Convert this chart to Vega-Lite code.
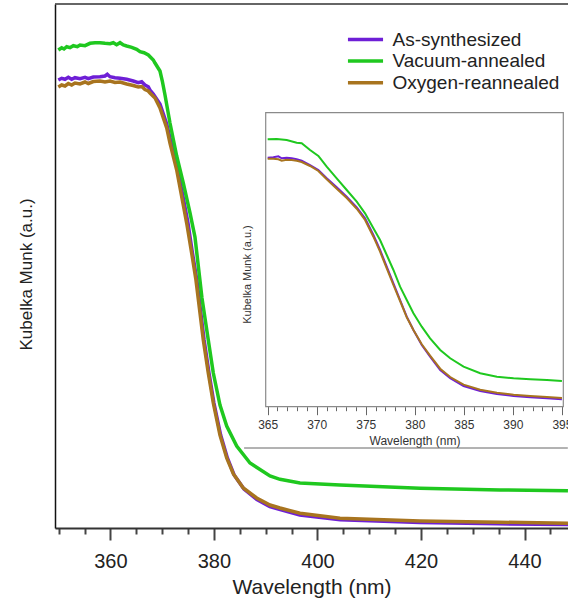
{
  "$schema": "https://vega.github.io/schema/vega-lite/v6.json",
  "width": 513,
  "height": 524,
  "autosize": {"type": "none"},
  "padding": {"left": 55, "top": 4, "right": 0, "bottom": 73},
  "config": {"view": {"stroke": null}, "font": "Liberation Sans", "axis": {"grid": false}},
  "datasets": {
    "main": [
      {"sample":"As-synthesized","wavelength":349.94,"km":448},{"sample":"As-synthesized","wavelength":350.59,"km":449.7},{"sample":"As-synthesized","wavelength":351.23,"km":448.7},{"sample":"As-synthesized","wavelength":351.87,"km":450.7},{"sample":"As-synthesized","wavelength":352.52,"km":448.7},{"sample":"As-synthesized","wavelength":353.16,"km":450.3},{"sample":"As-synthesized","wavelength":354.13,"km":449.3},{"sample":"As-synthesized","wavelength":355.1,"km":450.7},{"sample":"As-synthesized","wavelength":355.73,"km":449.3},{"sample":"As-synthesized","wavelength":356.7,"km":451},{"sample":"As-synthesized","wavelength":357.99,"km":451.3},{"sample":"As-synthesized","wavelength":358.96,"km":452},{"sample":"As-synthesized","wavelength":359.4,"km":453.7},{"sample":"As-synthesized","wavelength":359.92,"km":451.3},{"sample":"As-synthesized","wavelength":360.89,"km":450.3},{"sample":"As-synthesized","wavelength":361.86,"km":449.7},{"sample":"As-synthesized","wavelength":363.15,"km":448.7},{"sample":"As-synthesized","wavelength":364.42,"km":447},{"sample":"As-synthesized","wavelength":365.39,"km":445.3},{"sample":"As-synthesized","wavelength":366.05,"km":446.3},{"sample":"As-synthesized","wavelength":366.68,"km":443},{"sample":"As-synthesized","wavelength":367.32,"km":441.3},{"sample":"As-synthesized","wavelength":367.65,"km":438},{"sample":"As-synthesized","wavelength":368.29,"km":434},{"sample":"As-synthesized","wavelength":369.58,"km":424},{"sample":"As-synthesized","wavelength":370.88,"km":404},{"sample":"As-synthesized","wavelength":371.51,"km":390},{"sample":"As-synthesized","wavelength":372.81,"km":364},{"sample":"As-synthesized","wavelength":374.08,"km":330},{"sample":"As-synthesized","wavelength":374.99,"km":305},{"sample":"As-synthesized","wavelength":375.76,"km":278},{"sample":"As-synthesized","wavelength":376.7,"km":248},{"sample":"As-synthesized","wavelength":378.1,"km":188},{"sample":"As-synthesized","wavelength":379.05,"km":155},{"sample":"As-synthesized","wavelength":380.0,"km":125},{"sample":"As-synthesized","wavelength":381.3,"km":93},{"sample":"As-synthesized","wavelength":382.6,"km":70},{"sample":"As-synthesized","wavelength":383.9,"km":53},{"sample":"As-synthesized","wavelength":385.8,"km":39},{"sample":"As-synthesized","wavelength":388.3,"km":28.5},{"sample":"As-synthesized","wavelength":390.8,"km":21.5},{"sample":"As-synthesized","wavelength":392.8,"km":18.5},{"sample":"As-synthesized","wavelength":396.6,"km":13},{"sample":"As-synthesized","wavelength":404.4,"km":8.2},{"sample":"As-synthesized","wavelength":419.8,"km":5.5},{"sample":"As-synthesized","wavelength":435,"km":4.2},{"sample":"As-synthesized","wavelength":448.4,"km":3.5},
      {"sample":"Oxygen-reannealed","wavelength":349.94,"km":441},{"sample":"Oxygen-reannealed","wavelength":350.59,"km":443},{"sample":"Oxygen-reannealed","wavelength":351.23,"km":442},{"sample":"Oxygen-reannealed","wavelength":351.87,"km":444.5},{"sample":"Oxygen-reannealed","wavelength":352.52,"km":443},{"sample":"Oxygen-reannealed","wavelength":353.16,"km":445},{"sample":"Oxygen-reannealed","wavelength":354.13,"km":444},{"sample":"Oxygen-reannealed","wavelength":355.1,"km":446},{"sample":"Oxygen-reannealed","wavelength":355.73,"km":444.5},{"sample":"Oxygen-reannealed","wavelength":356.7,"km":446.5},{"sample":"Oxygen-reannealed","wavelength":357.99,"km":447},{"sample":"Oxygen-reannealed","wavelength":358.96,"km":446},{"sample":"Oxygen-reannealed","wavelength":359.92,"km":447},{"sample":"Oxygen-reannealed","wavelength":360.89,"km":445.5},{"sample":"Oxygen-reannealed","wavelength":361.86,"km":446},{"sample":"Oxygen-reannealed","wavelength":363.15,"km":444},{"sample":"Oxygen-reannealed","wavelength":364.42,"km":442.5},{"sample":"Oxygen-reannealed","wavelength":365.39,"km":441},{"sample":"Oxygen-reannealed","wavelength":366.05,"km":441.5},{"sample":"Oxygen-reannealed","wavelength":366.68,"km":438.5},{"sample":"Oxygen-reannealed","wavelength":367.32,"km":437},{"sample":"Oxygen-reannealed","wavelength":367.65,"km":435},{"sample":"Oxygen-reannealed","wavelength":368.62,"km":430},{"sample":"Oxygen-reannealed","wavelength":369.58,"km":420},{"sample":"Oxygen-reannealed","wavelength":370.88,"km":400},{"sample":"Oxygen-reannealed","wavelength":371.51,"km":385},{"sample":"Oxygen-reannealed","wavelength":372.81,"km":358},{"sample":"Oxygen-reannealed","wavelength":374.08,"km":323},{"sample":"Oxygen-reannealed","wavelength":374.8,"km":303},{"sample":"Oxygen-reannealed","wavelength":375.76,"km":273},{"sample":"Oxygen-reannealed","wavelength":376.53,"km":248},{"sample":"Oxygen-reannealed","wavelength":377.95,"km":188},{"sample":"Oxygen-reannealed","wavelength":378.91,"km":155},{"sample":"Oxygen-reannealed","wavelength":379.88,"km":125},{"sample":"Oxygen-reannealed","wavelength":381.17,"km":93},{"sample":"Oxygen-reannealed","wavelength":382.47,"km":70},{"sample":"Oxygen-reannealed","wavelength":383.76,"km":54},{"sample":"Oxygen-reannealed","wavelength":385.67,"km":40},{"sample":"Oxygen-reannealed","wavelength":388.26,"km":30},{"sample":"Oxygen-reannealed","wavelength":390.83,"km":23},{"sample":"Oxygen-reannealed","wavelength":392.76,"km":20},{"sample":"Oxygen-reannealed","wavelength":396.63,"km":14.7},{"sample":"Oxygen-reannealed","wavelength":404.35,"km":9.7},{"sample":"Oxygen-reannealed","wavelength":419.8,"km":7},{"sample":"Oxygen-reannealed","wavelength":435,"km":5.8},{"sample":"Oxygen-reannealed","wavelength":448.39,"km":4.7},
      {"sample":"Vacuum-annealed","wavelength":349.94,"km":478},{"sample":"Vacuum-annealed","wavelength":350.59,"km":480.3},{"sample":"Vacuum-annealed","wavelength":351.04,"km":479},{"sample":"Vacuum-annealed","wavelength":351.56,"km":481.3},{"sample":"Vacuum-annealed","wavelength":352.2,"km":480.3},{"sample":"Vacuum-annealed","wavelength":352.84,"km":482.3},{"sample":"Vacuum-annealed","wavelength":353.61,"km":481.3},{"sample":"Vacuum-annealed","wavelength":354.13,"km":483},{"sample":"Vacuum-annealed","wavelength":355.1,"km":482.3},{"sample":"Vacuum-annealed","wavelength":356.06,"km":484.7},{"sample":"Vacuum-annealed","wavelength":357.03,"km":485.3},{"sample":"Vacuum-annealed","wavelength":357.99,"km":485.3},{"sample":"Vacuum-annealed","wavelength":358.96,"km":484.7},{"sample":"Vacuum-annealed","wavelength":359.92,"km":484.3},{"sample":"Vacuum-annealed","wavelength":360.56,"km":485.3},{"sample":"Vacuum-annealed","wavelength":361.21,"km":483.3},{"sample":"Vacuum-annealed","wavelength":361.86,"km":485.3},{"sample":"Vacuum-annealed","wavelength":362.5,"km":483},{"sample":"Vacuum-annealed","wavelength":363.15,"km":482},{"sample":"Vacuum-annealed","wavelength":364.12,"km":480.7},{"sample":"Vacuum-annealed","wavelength":365.08,"km":478.7},{"sample":"Vacuum-annealed","wavelength":365.72,"km":476.3},{"sample":"Vacuum-annealed","wavelength":366.5,"km":475.3},{"sample":"Vacuum-annealed","wavelength":367.33,"km":473},{"sample":"Vacuum-annealed","wavelength":368.29,"km":468},{"sample":"Vacuum-annealed","wavelength":368.62,"km":465},{"sample":"Vacuum-annealed","wavelength":369.58,"km":457},{"sample":"Vacuum-annealed","wavelength":370.03,"km":447},{"sample":"Vacuum-annealed","wavelength":370.55,"km":433},{"sample":"Vacuum-annealed","wavelength":371.51,"km":405},{"sample":"Vacuum-annealed","wavelength":372.81,"km":372},{"sample":"Vacuum-annealed","wavelength":374.08,"km":345},{"sample":"Vacuum-annealed","wavelength":375.38,"km":315},{"sample":"Vacuum-annealed","wavelength":376.34,"km":291},{"sample":"Vacuum-annealed","wavelength":377.69,"km":230},{"sample":"Vacuum-annealed","wavelength":378.91,"km":188},{"sample":"Vacuum-annealed","wavelength":379.88,"km":155},{"sample":"Vacuum-annealed","wavelength":381.17,"km":123},{"sample":"Vacuum-annealed","wavelength":382.47,"km":102},{"sample":"Vacuum-annealed","wavelength":384.4,"km":82},{"sample":"Vacuum-annealed","wavelength":386.97,"km":65},{"sample":"Vacuum-annealed","wavelength":390.83,"km":52},{"sample":"Vacuum-annealed","wavelength":392.76,"km":48.7},{"sample":"Vacuum-annealed","wavelength":396.63,"km":45},{"sample":"Vacuum-annealed","wavelength":404.35,"km":43},{"sample":"Vacuum-annealed","wavelength":419.8,"km":39.7},{"sample":"Vacuum-annealed","wavelength":435.26,"km":38},{"sample":"Vacuum-annealed","wavelength":448.39,"km":37.3}
    ],
    "inset": [
      {"sample":"As-synthesized","wavelength":365.0,"km":249.0},{"sample":"As-synthesized","wavelength":365.58,"km":249.4},{"sample":"As-synthesized","wavelength":366.09,"km":250.4},{"sample":"As-synthesized","wavelength":366.43,"km":248.4},{"sample":"As-synthesized","wavelength":366.94,"km":249.0},{"sample":"As-synthesized","wavelength":367.45,"km":248.4},{"sample":"As-synthesized","wavelength":367.96,"km":247.4},{"sample":"As-synthesized","wavelength":368.47,"km":246.0},{"sample":"As-synthesized","wavelength":369.32,"km":241.7},{"sample":"As-synthesized","wavelength":370.17,"km":236.7},{"sample":"As-synthesized","wavelength":371.02,"km":228.4},{"sample":"As-synthesized","wavelength":372.04,"km":219.4},{"sample":"As-synthesized","wavelength":373.06,"km":210.0},{"sample":"As-synthesized","wavelength":374.08,"km":199.4},{"sample":"As-synthesized","wavelength":374.93,"km":188.4},{"sample":"As-synthesized","wavelength":375.78,"km":171.7},{"sample":"As-synthesized","wavelength":376.46,"km":156.7},{"sample":"As-synthesized","wavelength":377.14,"km":140.0},{"sample":"As-synthesized","wavelength":377.82,"km":123.4},{"sample":"As-synthesized","wavelength":378.5,"km":106.7},{"sample":"As-synthesized","wavelength":379.18,"km":90.0},{"sample":"As-synthesized","wavelength":379.86,"km":76.7},{"sample":"As-synthesized","wavelength":380.71,"km":61.7},{"sample":"As-synthesized","wavelength":381.56,"km":50.0},{"sample":"As-synthesized","wavelength":382.59,"km":36.7},{"sample":"As-synthesized","wavelength":383.61,"km":28.4},{"sample":"As-synthesized","wavelength":384.97,"km":20.7},{"sample":"As-synthesized","wavelength":386.67,"km":15.7},{"sample":"As-synthesized","wavelength":388.37,"km":12.7},{"sample":"As-synthesized","wavelength":390.07,"km":10.7},{"sample":"As-synthesized","wavelength":391.77,"km":9.4},{"sample":"As-synthesized","wavelength":393.47,"km":8.4},{"sample":"As-synthesized","wavelength":395.0,"km":7.4},
      {"sample":"Oxygen-reannealed","wavelength":365.0,"km":248.0},{"sample":"Oxygen-reannealed","wavelength":365.58,"km":248.0},{"sample":"Oxygen-reannealed","wavelength":366.09,"km":247.4},{"sample":"Oxygen-reannealed","wavelength":366.43,"km":246.0},{"sample":"Oxygen-reannealed","wavelength":366.94,"km":247.0},{"sample":"Oxygen-reannealed","wavelength":367.45,"km":246.7},{"sample":"Oxygen-reannealed","wavelength":367.96,"km":246.0},{"sample":"Oxygen-reannealed","wavelength":368.47,"km":244.7},{"sample":"Oxygen-reannealed","wavelength":369.32,"km":240.7},{"sample":"Oxygen-reannealed","wavelength":370.17,"km":235.7},{"sample":"Oxygen-reannealed","wavelength":371.02,"km":227.4},{"sample":"Oxygen-reannealed","wavelength":372.04,"km":218.0},{"sample":"Oxygen-reannealed","wavelength":373.06,"km":208.7},{"sample":"Oxygen-reannealed","wavelength":374.08,"km":198.0},{"sample":"Oxygen-reannealed","wavelength":374.93,"km":186.7},{"sample":"Oxygen-reannealed","wavelength":375.78,"km":170.0},{"sample":"Oxygen-reannealed","wavelength":376.46,"km":155.0},{"sample":"Oxygen-reannealed","wavelength":377.14,"km":138.4},{"sample":"Oxygen-reannealed","wavelength":377.82,"km":121.7},{"sample":"Oxygen-reannealed","wavelength":378.5,"km":105.7},{"sample":"Oxygen-reannealed","wavelength":379.18,"km":89.4},{"sample":"Oxygen-reannealed","wavelength":379.86,"km":76.7},{"sample":"Oxygen-reannealed","wavelength":380.71,"km":62.4},{"sample":"Oxygen-reannealed","wavelength":381.56,"km":51.0},{"sample":"Oxygen-reannealed","wavelength":382.59,"km":38.0},{"sample":"Oxygen-reannealed","wavelength":383.61,"km":29.7},{"sample":"Oxygen-reannealed","wavelength":384.97,"km":22.0},{"sample":"Oxygen-reannealed","wavelength":386.67,"km":17.0},{"sample":"Oxygen-reannealed","wavelength":388.37,"km":14.0},{"sample":"Oxygen-reannealed","wavelength":390.07,"km":12.0},{"sample":"Oxygen-reannealed","wavelength":391.77,"km":10.7},{"sample":"Oxygen-reannealed","wavelength":393.47,"km":9.7},{"sample":"Oxygen-reannealed","wavelength":395.0,"km":8.7},
      {"sample":"Vacuum-annealed","wavelength":365.0,"km":267.4},{"sample":"Vacuum-annealed","wavelength":365.92,"km":267.7},{"sample":"Vacuum-annealed","wavelength":366.94,"km":266.7},{"sample":"Vacuum-annealed","wavelength":367.96,"km":264.0},{"sample":"Vacuum-annealed","wavelength":368.47,"km":263.4},{"sample":"Vacuum-annealed","wavelength":369.32,"km":256.7},{"sample":"Vacuum-annealed","wavelength":370.17,"km":250.7},{"sample":"Vacuum-annealed","wavelength":371.02,"km":240.0},{"sample":"Vacuum-annealed","wavelength":372.04,"km":228.4},{"sample":"Vacuum-annealed","wavelength":373.06,"km":216.7},{"sample":"Vacuum-annealed","wavelength":374.08,"km":205.0},{"sample":"Vacuum-annealed","wavelength":374.93,"km":193.4},{"sample":"Vacuum-annealed","wavelength":375.78,"km":178.4},{"sample":"Vacuum-annealed","wavelength":376.46,"km":166.7},{"sample":"Vacuum-annealed","wavelength":377.14,"km":151.7},{"sample":"Vacuum-annealed","wavelength":377.82,"km":136.7},{"sample":"Vacuum-annealed","wavelength":378.5,"km":120.0},{"sample":"Vacuum-annealed","wavelength":379.18,"km":106.7},{"sample":"Vacuum-annealed","wavelength":379.86,"km":93.4},{"sample":"Vacuum-annealed","wavelength":380.71,"km":80.0},{"sample":"Vacuum-annealed","wavelength":381.56,"km":68.4},{"sample":"Vacuum-annealed","wavelength":382.59,"km":56.7},{"sample":"Vacuum-annealed","wavelength":383.61,"km":48.4},{"sample":"Vacuum-annealed","wavelength":384.97,"km":40.0},{"sample":"Vacuum-annealed","wavelength":386.67,"km":33.4},{"sample":"Vacuum-annealed","wavelength":388.37,"km":30.0},{"sample":"Vacuum-annealed","wavelength":390.07,"km":28.4},{"sample":"Vacuum-annealed","wavelength":391.77,"km":27.4},{"sample":"Vacuum-annealed","wavelength":393.47,"km":26.7},{"sample":"Vacuum-annealed","wavelength":395.0,"km":25.7}
    ]
  },
  "layer": [
    {
      "layer": [
        {
          "data": {"name": "main"},
          "mark": {"type": "line", "strokeWidth": 3.5, "clip": true},
          "encoding": {
            "x": {"field": "wavelength", "type": "quantitative",
              "scale": {"domain": [349.3, 448.4], "nice": false, "zero": false},
              "axis": {"title": "Wavelength (nm)", "values": [350,355,360,365,370,375,380,385,390,395,400,405,410,415,420,425,430,435,440,445],
                "labelExpr": "datum.value % 20 === 0 ? datum.label : ''", "labelOverlap": false, "labelFlush": false,
                "labelFontSize": 20, "labelColor": "#222222", "labelPadding": 11,
                "tickSize": {"condition": {"test": "datum.value % 20 === 0", "value": 12}, "value": 6},
                "tickWidth": 2, "tickColor": "#444444", "domainColor": "#333333", "domainWidth": 2,
                "titleFontSize": 21, "titleFontWeight": "normal", "titleColor": "#222222", "titlePadding": 5}},
            "y": {"field": "km", "type": "quantitative",
              "scale": {"domain": [0, 524], "nice": false, "zero": false},
              "axis": {"title": "Kubelka Munk (a.u.)", "labels": false, "ticks": false, "domainColor": "#111111", "domainWidth": 1.5,
                "titleFontSize": 17, "titleFontWeight": "normal", "titleColor": "#222222", "titlePadding": 20, "titleY": 270}},
            "color": {"field": "sample", "type": "nominal",
              "scale": {"domain": ["As-synthesized", "Vacuum-annealed", "Oxygen-reannealed"], "range": ["#6e1fd6", "#1fc81f", "#a8741f"]},
              "legend": {"orient": "none", "legendX": 299.5, "legendY": 24.5, "title": null, "padding": 0, "labelLimit": 0,
                "labelFontSize": 19, "labelColor": "#222222", "symbolType": "M-1.95,0H1.95", "symbolSize": 324,
                "symbolStrokeWidth": 3.5, "labelOffset": 16, "rowPadding": 0.6}}
          }
        },
        {
          "data": {"values": [{}]},
          "mark": {"type": "rule", "color": "#333333", "strokeWidth": 1.5},
          "encoding": {"y": {"datum": 524, "type": "quantitative", "scale": {"domain": [0, 524], "nice": false, "zero": false}}}
        }
      ]
    },
    {
      "layer": [
        {
          "data": {"name": "inset"},
          "mark": {"type": "line", "strokeWidth": 2},
          "encoding": {
            "x": {"field": "wavelength", "type": "quantitative",
              "scale": {"domain": [364.8, 395.14], "range": [210.7, 508.3], "nice": false, "zero": false},
              "axis": {"orient": "bottom", "offset": -121.3, "title": "Wavelength (nm)",
                "values": [365,370,375,380,385,390,395],
                "labelOverlap": false, "labelFlush": false,
                "labelFontSize": 12, "labelColor": "#333333", "labelPadding": 5,
                "ticks": true, "tickSize": 8, "tickColor": "#666666", "tickWidth": 1, "domain": false,
                "titleFontSize": 12, "titleFontWeight": "normal", "titleColor": "#333333", "titlePadding": 5}},
            "y": {"field": "km", "type": "quantitative",
              "scale": {"domain": [0, 294], "range": [402.7, 108.7], "nice": false, "zero": false},
              "axis": {"orient": "left", "offset": -210.7, "title": "Kubelka Munk (a.u.)", "labels": false, "ticks": false, "domain": false,
                "titleFontSize": 11, "titleFontWeight": "normal", "titleColor": "#333333", "titlePadding": 13, "titleY": 270}},
            "color": {"field": "sample", "type": "nominal",
              "scale": {"domain": ["As-synthesized", "Vacuum-annealed", "Oxygen-reannealed"], "range": ["#6e1fd6", "#1fc81f", "#a8741f"]}}
          }
        },
        {
          "data": {"values": [{}]},
          "mark": {"type": "rect", "fill": "#ffffff", "fillOpacity": 0, "stroke": "#8a8a8a", "strokeWidth": 1.2},
          "encoding": {
            "x": {"datum": 364.8, "type": "quantitative", "scale": {"domain": [364.8, 395.14], "range": [210.7, 508.3], "nice": false, "zero": false},
              "axis": {"orient": "bottom", "offset": -121.3, "title": null, "labels": false, "domain": false, "ticks": true,
                "values": [365,366,367,368,369,370,371,372,373,374,375,376,377,378,379,380,381,382,383,384,385,386,387,388,389,390,391,392,393,394,395],
                "tickSize": 4, "tickColor": "#666666", "tickWidth": 1}},
            "x2": {"datum": 395.14},
            "y": {"datum": 0, "type": "quantitative", "scale": {"domain": [0, 294], "range": [402.7, 108.7], "nice": false, "zero": false}},
            "y2": {"datum": 294}
          }
        },
        {
          "data": {"values": [{}]},
          "mark": {"type": "rule", "stroke": "#666666", "strokeWidth": 1, "clip": false},
          "encoding": {
            "x": {"datum": 362.6, "type": "quantitative", "scale": {"domain": [364.8, 395.14], "range": [210.7, 508.3], "nice": false, "zero": false}, "axis": null},
            "x2": {"datum": 395.6},
            "y": {"datum": -41.3, "type": "quantitative", "scale": {"domain": [0, 294], "range": [402.7, 108.7], "nice": false, "zero": false}}
          }
        }
      ],
      "resolve": {"axis": {"x": "independent"}}
    }
  ],
  "resolve": {"scale": {"x": "independent", "y": "independent", "color": "shared"}, "axis": {"x": "independent", "y": "independent"}}
}
